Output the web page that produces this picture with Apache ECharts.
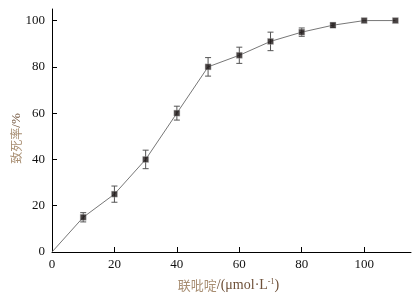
<!DOCTYPE html>
<html>
<head>
<meta charset="utf-8">
<script src="https://cdn.jsdelivr.net/npm/echarts@6/dist/echarts.min.js"></script>
<style>
  html, body { margin: 0; padding: 0; background: #fff; }
  #main { width: 417px; height: 297px; }
</style>
</head>
<body>
<div id="main"></div>
<script>
  // 联吡啶浓度 / 致死率 / 误差
  const conc = [0, 10, 20, 30, 40, 50, 60, 70, 80, 90, 100, 110]
  const rate = [0, 15, 25, 40, 60, 80, 85, 91, 95, 98, 100, 100]
  const err = [0, 2, 3.5, 4, 3, 4, 3.5, 4, 1.8, 1, 0, 0]

  const serif = '"Liberation Serif", "Times New Roman", serif'
  const cjk = '"Noto Sans CJK SC", serif'
  const tan = '#a88e72'
  const brown = '#6e5038'

  const points = conc.map((c, i) => [c, rate[i]])
  const marks = points.slice(1)
  const bars = conc.map((c, i) => [c, rate[i] - err[i], rate[i] + err[i]]).filter((d, i) => err[i] > 0)

  const myChart = echarts.init(document.getElementById('main'))
  const option = {
    animation: false,
    grid: { left: 52, right: 6, top: 9, bottom: 45, containLabel: false, outerBoundsMode: 'none' },
    xAxis: {
      type: 'value',
      min: 0,
      max: 115,
      interval: 20,
      splitLine: { show: false },
      axisLine: { lineStyle: { color: '#000', width: 1 } },
      axisTick: { inside: true, length: 5, lineStyle: { color: '#000' } },
      axisLabel: {
        color: '#111', fontFamily: serif, fontSize: 13, margin: 6,
        showMaxLabel: false
      },
      name: '{c|联吡啶}{t|/(μmol·L}{s|-1}{t|)}',
      nameLocation: 'middle',
      nameGap: 26,
      nameMoveOverlap: false,
      nameTextStyle: {
        padding: [0, 6, 0, 0],
        rich: {
          c: { color: tan, fontFamily: cjk, fontSize: 13 },
          t: { color: brown, fontFamily: serif, fontSize: 14 },
          s: { color: brown, fontFamily: serif, fontSize: 8, verticalAlign: 'top', padding: [0, 0, 6, 0] }
        }
      }
    },
    yAxis: {
      type: 'value',
      min: 0,
      max: 105,
      interval: 20,
      splitLine: { show: false },
      axisLine: { show: true, lineStyle: { color: '#000', width: 1 } },
      axisTick: { show: true, inside: true, length: 5, lineStyle: { color: '#000' } },
      axisLabel: {
        color: '#111', fontFamily: serif, fontSize: 13, margin: 7,
        showMaxLabel: false
      },
      name: '{c|致死率}{t|/%}',
      nameLocation: 'middle',
      nameRotate: 90,
      nameGap: 29,
      nameMoveOverlap: false,
      nameTextStyle: {
        padding: [0, 16, 0, 0],
        rich: {
          c: { color: tan, fontFamily: cjk, fontSize: 12 },
          t: { color: brown, fontFamily: serif, fontSize: 13 }
        }
      }
    },
    series: [
      {
        type: 'line',
        data: points,
        symbol: 'none',
        lineStyle: { color: '#777', width: 1 },
        z: 2
      },
      {
        type: 'custom',
        data: bars,
        z: 3,
        renderItem: function (params, api) {
          const x = api.value(0)
          const lo = api.coord([x, api.value(1)])
          const hi = api.coord([x, api.value(2)])
          const w = 3
          const style = { stroke: '#555', lineWidth: 1 }
          return {
            type: 'group',
            children: [
              { type: 'line', shape: { x1: lo[0], y1: lo[1], x2: hi[0], y2: hi[1] }, style: style },
              { type: 'line', shape: { x1: lo[0] - w, y1: lo[1], x2: lo[0] + w, y2: lo[1] }, style: style },
              { type: 'line', shape: { x1: hi[0] - w, y1: hi[1], x2: hi[0] + w, y2: hi[1] }, style: style }
            ]
          }
        }
      },
      {
        type: 'scatter',
        data: marks,
        symbol: 'rect',
        symbolSize: 6,
        itemStyle: { color: '#1a1414', borderColor: '#bbb', borderWidth: 0.5 },
        z: 4
      }
    ]
  }
  myChart.setOption(option)
</script>
</body>
</html>
